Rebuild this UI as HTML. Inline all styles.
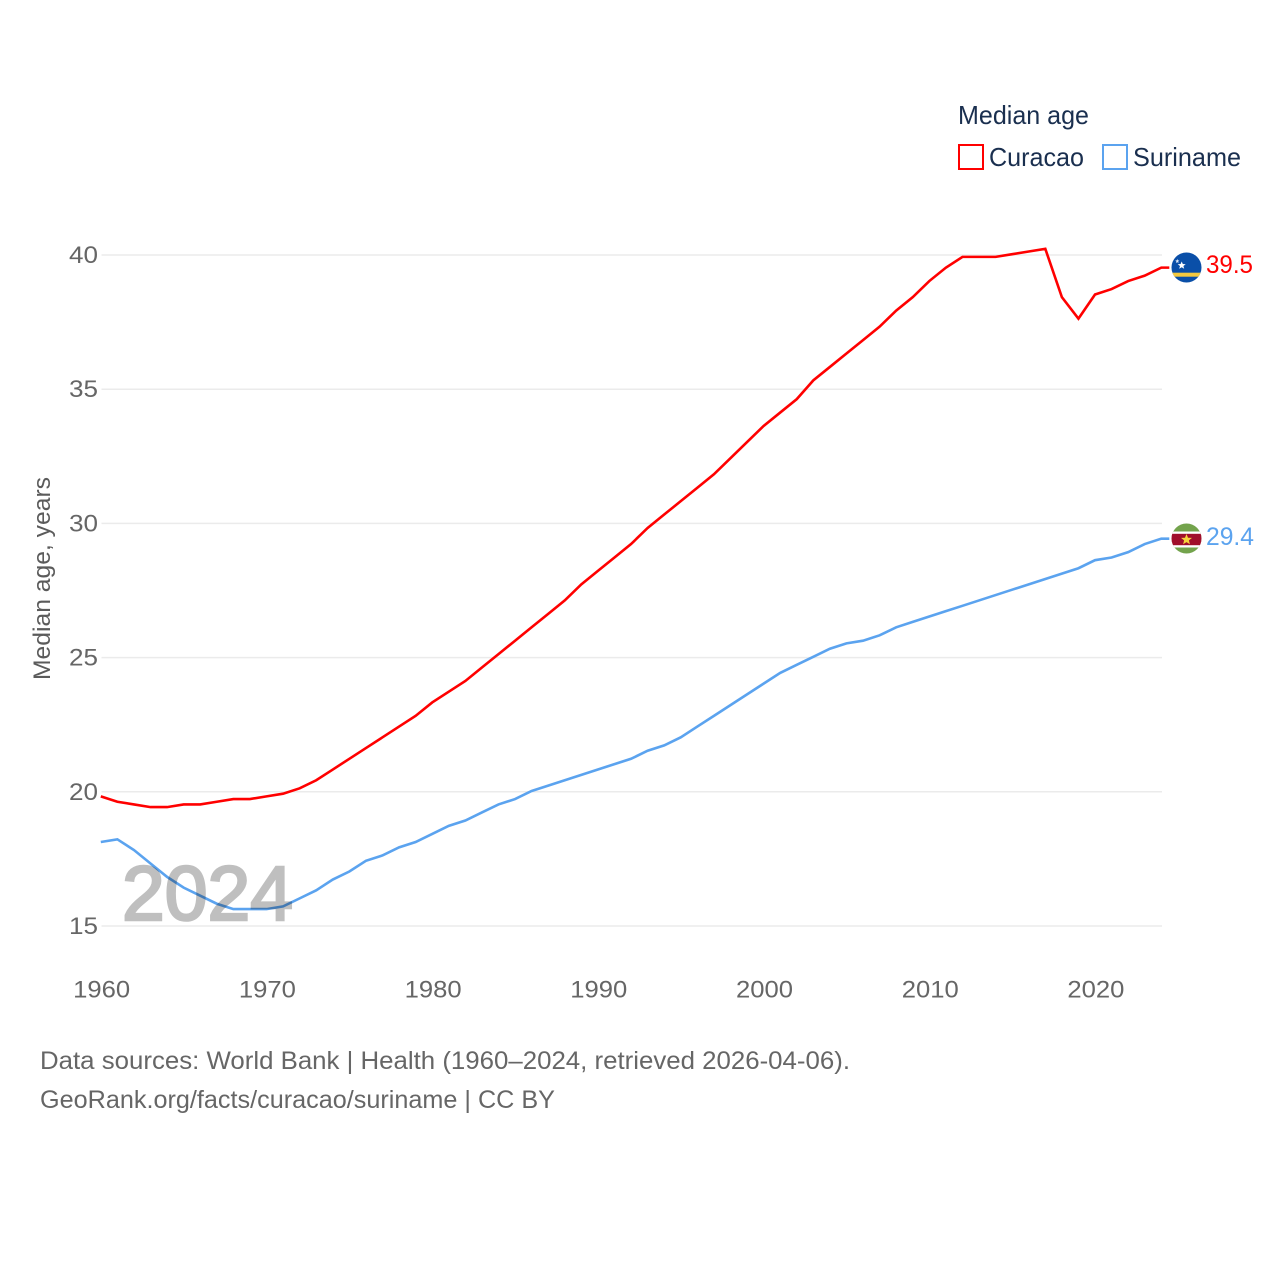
<!DOCTYPE html>
<html lang="en">
<head>
<meta charset="utf-8">
<title>Median age: Curacao and Suriname</title>
<style>
html,body{margin:0;padding:0;background:#fff;width:1280px;height:1280px;overflow:hidden}
svg{display:block;font-family:"Liberation Sans",sans-serif}
</style>
</head>
<body>
<svg id="chart" width="1280" height="1280" viewBox="0 0 1280 1280" xmlns="http://www.w3.org/2000/svg">
  <defs>
    <clipPath id="clip-cw"><circle cx="1186.5" cy="267.5" r="15"/></clipPath>
    <clipPath id="clip-sr"><circle cx="1186.5" cy="538.5" r="15"/></clipPath>
  </defs>
  <g id="grid"></g>
  <g id="yticks"></g>
  <g id="xticks"></g>
  <text transform="translate(50,680) rotate(-90)" font-size="24" fill="#5b5b5b" textLength="203" lengthAdjust="spacingAndGlyphs">Median age, years</text>
  <g id="series" transform="translate(-0.7,-0.8)"></g>
  <text x="122" y="920" font-size="77" font-weight="normal" fill="#bfbfbf" stroke="#bfbfbf" stroke-width="2.6" textLength="171" lengthAdjust="spacingAndGlyphs" style="mix-blend-mode:multiply">2024</text>

  <g>
    <text x="958" y="124" font-size="26" fill="#1a2f4f" textLength="131" lengthAdjust="spacingAndGlyphs">Median age</text>
    <g>
      <rect x="959" y="145" width="24" height="24" fill="#fff" stroke="#ff0000" stroke-width="2"/>
      <text x="989" y="166" font-size="26" fill="#1a2f4f" textLength="95" lengthAdjust="spacingAndGlyphs">Curacao</text>
    </g>
    <g>
      <rect x="1103" y="145" width="24" height="24" fill="#fff" stroke="#5ba3ef" stroke-width="2"/>
      <text x="1133" y="166" font-size="26" fill="#1a2f4f" textLength="108" lengthAdjust="spacingAndGlyphs">Suriname</text>
    </g>
  </g>

  <g clip-path="url(#clip-cw)">
    <rect x="1171" y="252" width="31" height="31" fill="#0a4fa8"/>
    <rect x="1171" y="272.7" width="31" height="4" fill="#f4c93f"/>
    <polygon points="1181.7,261.5 1182.8,264 1185.7,264.2 1183.4,266 1184.2,268.8 1181.7,267.3 1179.2,268.8 1180,266 1177.7,264.2 1180.6,264" fill="#fff"/>
    <polygon points="1177.3,259 1177.9,260.4 1179.4,260.5 1178.2,261.5 1178.6,263 1177.3,262.2 1176,263 1176.4,261.5 1175.2,260.5 1176.7,260.4" fill="#dfe8f5"/>
  </g>
  <g clip-path="url(#clip-sr)">
    <rect x="1171" y="523" width="31" height="32" fill="#73a34c"/>
    <rect x="1171" y="531.5" width="31" height="16" fill="#fff"/>
    <rect x="1171" y="533.8" width="31" height="11.4" fill="#a00f2b"/>
    <polygon points="1186.5,534 1188,537.7 1192,537.9 1188.9,540.4 1189.9,544.3 1186.5,542.1 1183.1,544.3 1184.1,540.4 1181,537.9 1185,537.7" fill="#f6d33c"/>
  </g>
  <text id="label-cw" x="1206" y="273" font-size="25" fill="#ff0000" textLength="47" lengthAdjust="spacingAndGlyphs"></text>
  <text id="label-sr" x="1206" y="545" font-size="25" fill="#5ba3ef" textLength="48" lengthAdjust="spacingAndGlyphs"></text>

  <g>
    <text x="40" y="1069" font-size="25" fill="#666666" textLength="810" lengthAdjust="spacingAndGlyphs">Data sources: World Bank | Health (1960–2024, retrieved 2026-04-06).</text>
    <text x="40" y="1108" font-size="25" fill="#666666" textLength="515" lengthAdjust="spacingAndGlyphs">GeoRank.org/facts/curacao/suriname | CC BY</text>
  </g>
</svg>
<script>
const startYear = 1960;
const curacao = [19.8,19.6,19.5,19.4,19.4,19.5,19.5,19.6,19.7,19.7,19.8,19.9,20.1,20.4,20.8,21.2,21.6,22.0,22.4,22.8,23.3,23.7,24.1,24.6,25.1,25.6,26.1,26.6,27.1,27.7,28.2,28.7,29.2,29.8,30.3,30.8,31.3,31.8,32.4,33.0,33.6,34.1,34.6,35.3,35.8,36.3,36.8,37.3,37.9,38.4,39.0,39.5,39.9,39.9,39.9,40.0,40.1,40.2,38.4,37.6,38.5,38.7,39.0,39.2,39.5];
const suriname = [18.1,18.2,17.8,17.3,16.8,16.4,16.1,15.8,15.6,15.6,15.6,15.7,16.0,16.3,16.7,17.0,17.4,17.6,17.9,18.1,18.4,18.7,18.9,19.2,19.5,19.7,20.0,20.2,20.4,20.6,20.8,21.0,21.2,21.5,21.7,22.0,22.4,22.8,23.2,23.6,24.0,24.4,24.7,25.0,25.3,25.5,25.6,25.8,26.1,26.3,26.5,26.7,26.9,27.1,27.3,27.5,27.7,27.9,28.1,28.3,28.6,28.7,28.9,29.2,29.4];
const yTickValues = [15,20,25,30,35,40];
const xTickValues = [1960,1970,1980,1990,2000,2010,2020];

const NS = 'http://www.w3.org/2000/svg';
const xScale = function (year) { return 101.5 + (year - 1960) * (1162 - 101.5) / 64; };
const yScale = function (v) { return 926 - (v - 15) * (926 - 255) / 25; };

const grid = document.getElementById('grid');
const yticks = document.getElementById('yticks');
const xticks = document.getElementById('xticks');
const series = document.getElementById('series');

yTickValues.forEach(function (v) {
  const line = document.createElementNS(NS, 'line');
  
  
  line.setAttribute('x1', 101.5);
  line.setAttribute('x2', 1162);
  line.setAttribute('y1', yScale(v));
  line.setAttribute('y2', yScale(v));
  line.setAttribute('stroke', '#ebebeb');
  line.setAttribute('stroke-width', '1.5');
  grid.appendChild(line);

  const t = document.createElementNS(NS, 'text');
  
  
  t.setAttribute('x', 98);
  t.setAttribute('y', yScale(v) + 8);
  t.setAttribute('text-anchor', 'end');
  t.setAttribute('font-size', '24');
  t.setAttribute('fill', '#666666');
  t.setAttribute('textLength', '29');
  t.setAttribute('lengthAdjust', 'spacingAndGlyphs');
  t.textContent = String(v);
  yticks.appendChild(t);
});

xTickValues.forEach(function (year) {
  const t = document.createElementNS(NS, 'text');
  
  
  t.setAttribute('x', xScale(year) + 0.2);
  t.setAttribute('y', 997.5);
  t.setAttribute('text-anchor', 'middle');
  t.setAttribute('font-size', '24');
  t.setAttribute('fill', '#666666');
  t.setAttribute('textLength', '57');
  t.setAttribute('lengthAdjust', 'spacingAndGlyphs');
  t.textContent = String(year);
  xticks.appendChild(t);
});

function seriesPoints(values) {
  const pts = values.map(function (v, i) {
    return xScale(startYear + i).toFixed(2) + ',' + yScale(v).toFixed(2);
  });
  const lastY = yScale(values[values.length - 1]).toFixed(2);
  pts.push('1170,' + lastY);
  return pts.join(' ');
}

const lineCw = document.createElementNS(NS, 'polyline');


lineCw.setAttribute('points', seriesPoints(curacao));
lineCw.setAttribute('fill', 'none');
lineCw.setAttribute('stroke', '#ff0000');
lineCw.setAttribute('stroke-width', '2.6');
series.appendChild(lineCw);

const lineSr = document.createElementNS(NS, 'polyline');


lineSr.setAttribute('points', seriesPoints(suriname));
lineSr.setAttribute('fill', 'none');
lineSr.setAttribute('stroke', '#5ba3ef');
lineSr.setAttribute('stroke-width', '2.6');
series.appendChild(lineSr);

document.getElementById('label-cw').textContent = curacao[curacao.length - 1].toFixed(1);
document.getElementById('label-sr').textContent = suriname[suriname.length - 1].toFixed(1);
</script>
</body>
</html>
